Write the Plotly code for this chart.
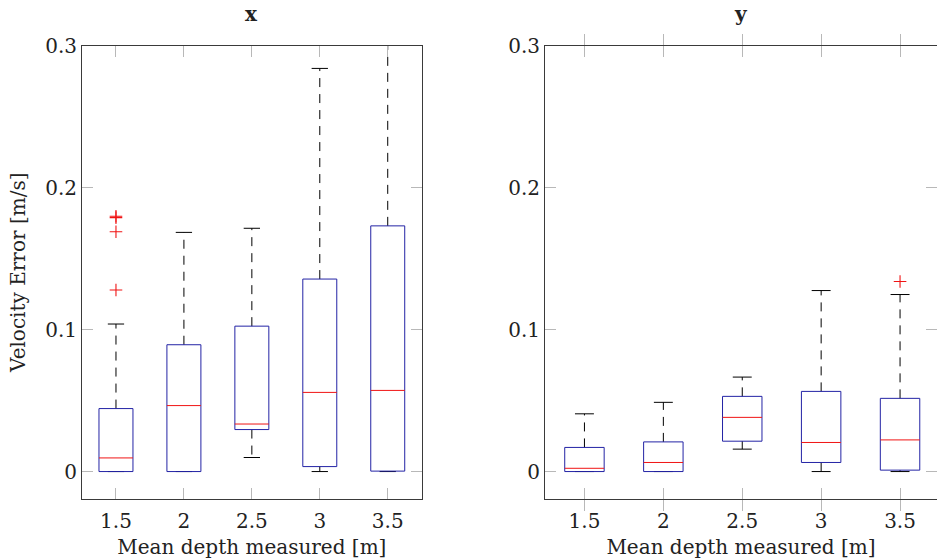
import plotly.graph_objects as go

# ---- data ----
categories = [1.5, 2.0, 2.5, 3.0, 3.5]
tick_labels = ["1.5", "2", "2.5", "3", "3.5"]

# panel "x"
x_lower = [0.0, 0.0, 0.0099, 0.0, 0.0]
x_q1 = [0.0, 0.0, 0.0296, 0.0035, 0.0003]
x_median = [0.0096, 0.0465, 0.0335, 0.0558, 0.0572]
x_q3 = [0.0444, 0.0894, 0.1025, 0.1357, 0.1732]
x_upper = [0.104, 0.1686, 0.1715, 0.2842, 0.33]
x_out_cat = [1.5, 1.5, 1.5, 1.5]
x_out_val = [0.179, 0.180, 0.169, 0.128]

# panel "y"
y_lower = [0.0, 0.0, 0.0158, 0.0, 0.0]
y_q1 = [0.0, 0.0, 0.0214, 0.0064, 0.001]
y_median = [0.0023, 0.0064, 0.0382, 0.0205, 0.0223]
y_q3 = [0.017, 0.0209, 0.053, 0.0565, 0.0516]
y_upper = [0.0407, 0.0488, 0.0666, 0.1276, 0.1248]
y_out_cat = [3.5]
y_out_val = [0.134]

y_tickvals = [0, 0.1, 0.2, 0.3]
y_ticktext = ["0", "0.1", "0.2", "0.3"]

BOX_W = 0.25
CAP_W = 0.12
FONT = "DejaVu Serif"
FS = 20
BLUE = "rgb(35,35,165)"
RED = "rgb(240,20,20)"

fig = go.Figure()


def add_panel(xa, ya, lower, q1, med, q3, upper, ocat, oval):
    bx, by, mx, my, wx, wy, cx, cy = [], [], [], [], [], [], [], []
    for c, lo, a, m, b, up in zip(categories, lower, q1, med, q3, upper):
        h = BOX_W / 2
        k = CAP_W / 2
        bx += [c - h, c + h, c + h, c - h, c - h, None]
        by += [a, a, b, b, a, None]
        mx += [c - h, c + h, None]
        my += [m, m, None]
        wx += [c, c, None, c, c, None]
        wy += [b, up, None, a, lo, None]
        cx += [c - k, c + k, None, c - k, c + k, None]
        cy += [up, up, None, lo, lo, None]
    common = dict(xaxis=xa, yaxis=ya, mode="lines", showlegend=False, hoverinfo="skip")
    fig.add_trace(go.Scatter(x=wx, y=wy, line=dict(color="black", width=1, dash="9px,7px"), **common))
    fig.add_trace(go.Scatter(x=cx, y=cy, line=dict(color="black", width=1), **common))
    fig.add_trace(go.Scatter(x=bx, y=by, line=dict(color=BLUE, width=1), **common))
    fig.add_trace(go.Scatter(x=mx, y=my, line=dict(color=RED, width=1), **common))
    fig.add_trace(go.Scatter(x=ocat, y=oval, xaxis=xa, yaxis=ya, mode="markers",
                             showlegend=False, hoverinfo="skip",
                             marker=dict(symbol="cross-thin", size=9,
                                         line=dict(color=RED, width=1.1))))


add_panel("x", "y", x_lower, x_q1, x_median, x_q3, x_upper, x_out_cat, x_out_val)
add_panel("x2", "y2", y_lower, y_q1, y_median, y_q3, y_upper, y_out_cat, y_out_val)

W, H = 937, 560
ydom = [1 - 498.5 / H, 1 - 46 / H]
YRANGE = [-0.019, 0.3]

axis_common = dict(
    showgrid=False, zeroline=False, showline=True, linecolor="#3a3a3a", linewidth=1,
    ticks="inside", ticklen=11, tickcolor="#b8b8b8", tickwidth=1,
    tickfont=dict(family=FONT, size=FS, color="#222222"), automargin=False,
)

fig.update_layout(
    width=W, height=H,
    margin=dict(l=0, r=0, t=0, b=0),
    paper_bgcolor="white", plot_bgcolor="white",
    font=dict(family=FONT, color="#222222"),
    xaxis=dict(domain=[82 / W, 421.7 / W], range=[1.25, 3.75], tickvals=categories,
               ticktext=tick_labels, mirror="allticks", anchor="y", ticklabelstandoff=4,
               title=dict(text="Mean depth measured [m]", font=dict(family=FONT, size=FS), standoff=8),
               **axis_common),
    yaxis=dict(domain=ydom, range=YRANGE, tickvals=y_tickvals, ticktext=y_ticktext,
               mirror="allticks", anchor="x",
               title=dict(text="Velocity Error [m/s]", font=dict(family=FONT, size=FS), standoff=14),
               **axis_common),
    xaxis2=dict(domain=[545 / W, 1.0], range=[1.25, 3.5 + (937 - 900) / 158], tickvals=categories,
                ticktext=tick_labels, mirror="allticks", anchor="y2", ticklabelstandoff=4,
                title=dict(text="Mean depth measured [m]", font=dict(family=FONT, size=FS), standoff=8),
                **axis_common),
    yaxis2=dict(domain=ydom, range=YRANGE, tickvals=y_tickvals, ticktext=y_ticktext,
                mirror=False, anchor="x2", **axis_common),
    # right-side ticks of the right panel, whose border line lies beyond the picture
    yaxis3=dict(domain=ydom, range=YRANGE, tickvals=y_tickvals, overlaying="y2", side="right",
                anchor="free", position=1.0, showgrid=False, zeroline=False, showline=False,
                ticks="inside", ticklen=11, tickcolor="#b8b8b8", tickwidth=1,
                showticklabels=False, automargin=False),
    annotations=[
        dict(text="<b>x</b>", x=(82 + 421.7) / 2 / W, y=1 - 28 / H, xref="paper", yref="paper",
             xanchor="center", yanchor="bottom",
             showarrow=False, font=dict(family=FONT, size=20, color="#222222")),
        dict(text="<b>y</b>", x=741 / W, y=1 - 28 / H, xref="paper", yref="paper",
             xanchor="center", yanchor="bottom",
             showarrow=False, font=dict(family=FONT, size=20, color="#222222")),
    ],
)

# an invisible trace so that the right-side tick axis is drawn
fig.add_trace(go.Scatter(x=[categories[0]], y=[y_tickvals[0]], xaxis="x2", yaxis="y3",
                         mode="markers", marker=dict(opacity=0), showlegend=False,
                         hoverinfo="skip"))

fig.write_html("out.html")
